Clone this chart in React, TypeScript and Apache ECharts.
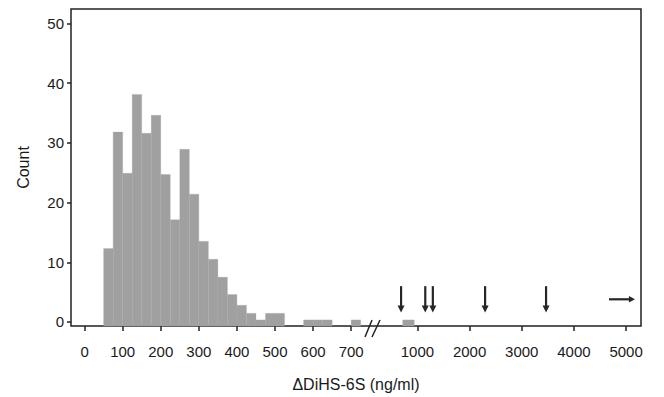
import React, { useEffect, useRef } from "react";
import * as echarts from "echarts";

// ---- data ----
const binWidth = 25;
const binStarts = [50, 75, 100, 125, 150, 175, 200, 225, 250, 275, 300, 325, 350, 375, 400, 425, 450, 475, 500, 525, 550, 575, 600, 625, 650, 675, 700];
const binCounts = [12.3, 31.8, 24.9, 38.1, 31.6, 34.6, 24.7, 17.1, 28.9, 21.4, 13.5, 10.5, 7.5, 4.6, 2.8, 1.45, 0.35, 1.45, 1.45, 0, 0, 0.35, 0.35, 0.35, 0, 0, 0.35];
// bin after the axis break: [lower, upper, count]
const breakBins: number[][] = [[885, 975, 0.35]];
// individual high values marked with downward arrows
const outlierValues = [872, 1150, 1295, 2297, 3466];
const arrowTop = 6.0;
const arrowBottom = 1.6;
// value beyond the axis: horizontal arrow [from, to, level]
const beyondArrow = [4672, 5170, 3.8];

const xTickValues = [0, 100, 200, 300, 400, 500, 600, 700, 1000, 2000, 3000, 4000, 5000];
const yTickValues = [0, 10, 20, 30, 40, 50];

// ---- broken axis transform (value -> axis position) ----
function toAxis(v: number): number {
  if (v <= 750) return v;
  if (v < 1000) return 790 + (v - 750) * (84 / 250);
  return 874 + (v - 1000) * 0.13695;
}

const X_MIN = -35.7;
const X_MAX = 1461;
const Y_MIN = -0.67;
const Y_MAX = 52.4;

export default function App() {
  const ref = useRef<HTMLDivElement>(null);

  useEffect(() => {
    if (!ref.current) return;
    const chart = echarts.init(ref.current, null, { renderer: "svg" });

    const barData = binStarts
      .map((s, i) => [toAxis(s), toAxis(s + binWidth), binCounts[i]])
      .filter((d) => d[2] > 0)
      .concat(breakBins.map((b) => [toAxis(b[0]), toAxis(b[1]), b[2]]));

    const tickPos = xTickValues.map(toAxis);
    const labelFor = (pos: number) => {
      let best = 0;
      for (let i = 0; i < tickPos.length; i++) {
        if (Math.abs(tickPos[i] - pos) < Math.abs(tickPos[best] - pos)) best = i;
      }
      return String(xTickValues[best]);
    };

    const ink = "#222222";
    const arrowColor = "#262626";

    chart.setOption({
      animation: false,
      grid: {
        left: 71,
        top: 9,
        right: 23,
        bottom: 70,
        show: true,
        borderColor: ink,
        borderWidth: 1.5,
        backgroundColor: "transparent",
      },
      xAxis: {
        type: "value",
        min: X_MIN,
        max: X_MAX,
        name: "\u0394DiHS-6S (ng/ml)",
        nameLocation: "middle",
        nameGap: 50,
        nameTextStyle: { fontFamily: "Liberation Sans", fontSize: 16, color: "#1a1a1a" },
        axisLine: { show: false, onZero: false },
        splitLine: { show: false },
        axisTick: {
          show: true,
          inside: false,
          length: 5,
          customValues: tickPos,
          lineStyle: { color: ink, width: 1.5 },
        },
        axisLabel: {
          customValues: tickPos,
          formatter: (v: number) => labelFor(v),
          fontFamily: "Liberation Sans",
          fontSize: 15,
          color: "#1a1a1a",
          margin: 18,
        },
      },
      yAxis: {
        type: "value",
        min: Y_MIN,
        max: Y_MAX,
        name: "Count",
        nameLocation: "middle",
        nameGap: 40,
        nameRotate: 90,
        nameTextStyle: { fontFamily: "Liberation Sans", fontSize: 16, color: "#1a1a1a" },
        axisLine: { show: false, onZero: false },
        splitLine: { show: false },
        axisTick: {
          show: true,
          inside: false,
          length: 4,
          customValues: yTickValues,
          lineStyle: { color: ink, width: 1.5 },
        },
        axisLabel: {
          customValues: yTickValues,
          fontFamily: "Liberation Sans",
          fontSize: 15,
          color: "#1a1a1a",
          margin: 7,
        },
      },
      series: [
        {
          type: "custom",
          name: "bars",
          data: barData,
          encode: { x: [0, 1], y: 2 },
          renderItem: (params: any, api: any) => {
            const p0 = api.coord([api.value(0), Y_MIN]);
            const p1 = api.coord([api.value(1), api.value(2)]);
            return {
              type: "rect",
              shape: { x: p0[0], y: p1[1], width: p1[0] - p0[0], height: p0[1] - p1[1] },
              style: { fill: "#a0a0a0", stroke: "#a8a8a8", lineWidth: 0.3 },
            };
          },
          z: 2,
        },
        {
          type: "custom",
          name: "outliers",
          data: outlierValues.map((v) => [toAxis(v), arrowTop, arrowBottom]),
          encode: { x: 0, y: [1, 2] },
          renderItem: (params: any, api: any) => {
            const top = api.coord([api.value(0), api.value(1)]);
            const bot = api.coord([api.value(0), api.value(2)]);
            const hw = 3.5;
            const hh = 7;
            return {
              type: "group",
              children: [
                {
                  type: "line",
                  shape: { x1: top[0], y1: top[1], x2: bot[0], y2: bot[1] - hh + 1 },
                  style: { stroke: arrowColor, lineWidth: 2.2 },
                },
                {
                  type: "polygon",
                  shape: {
                    points: [
                      [bot[0] - hw, bot[1] - hh],
                      [bot[0] + hw, bot[1] - hh],
                      [bot[0], bot[1]],
                    ],
                  },
                  style: { fill: arrowColor },
                },
              ],
            };
          },
          z: 3,
        },
        {
          type: "custom",
          name: "beyond",
          data: [[toAxis(beyondArrow[0]), toAxis(beyondArrow[1]), beyondArrow[2]]],
          encode: { x: [0, 1], y: 2 },
          renderItem: (params: any, api: any) => {
            const a = api.coord([api.value(0), api.value(2)]);
            const b = api.coord([api.value(1), api.value(2)]);
            const hw = 3.2;
            const hl = 6;
            return {
              type: "group",
              children: [
                {
                  type: "line",
                  shape: { x1: a[0], y1: a[1], x2: b[0] - hl + 1, y2: b[1] },
                  style: { stroke: arrowColor, lineWidth: 2.2 },
                },
                {
                  type: "polygon",
                  shape: {
                    points: [
                      [b[0] - hl, b[1] - hw],
                      [b[0] - hl, b[1] + hw],
                      [b[0], b[1]],
                    ],
                  },
                  style: { fill: arrowColor },
                },
              ],
            };
          },
          z: 3,
        },
      ],
      graphic: [
        {
          type: "line",
          shape: { x1: 365, y1: 337, x2: 372, y2: 320 },
          style: { stroke: ink, lineWidth: 1.5 },
          z: 10,
        },
        {
          type: "line",
          shape: { x1: 372, y1: 337, x2: 380, y2: 320 },
          style: { stroke: ink, lineWidth: 1.5 },
          z: 10,
        },
      ],
    });

    return () => chart.dispose();
  }, []);

  return (
    <div
      ref={ref}
      style={{ position: "fixed", left: 0, top: 0, width: 664, height: 397, background: "#ffffff" }}
    />
  );
}
